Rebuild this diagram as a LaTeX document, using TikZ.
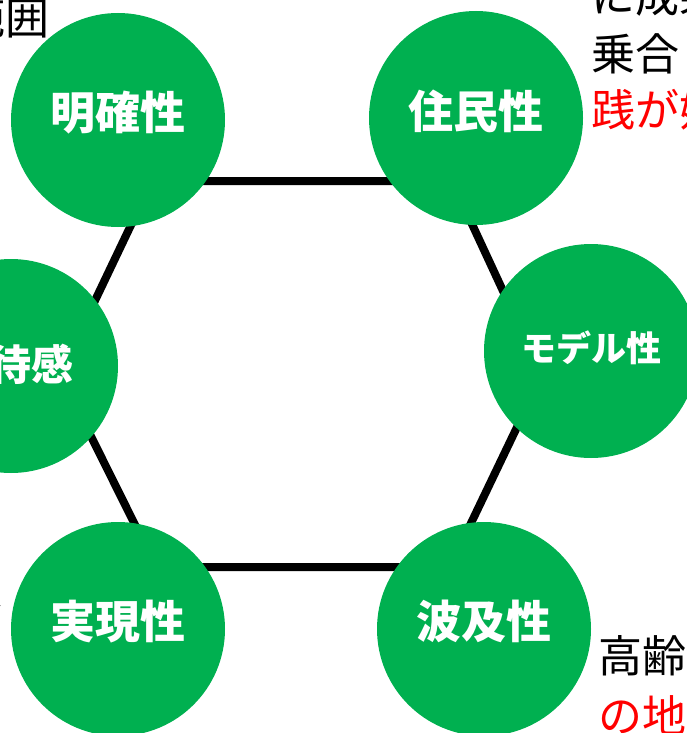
\documentclass[tikz,border=0pt]{standalone}
\usepackage{fontspec}
\newfontfamily\jp{Noto Sans CJK JP}
\definecolor{kgreen}{RGB}{0,176,80}
\definecolor{kred}{RGB}{255,0,0}
\begin{document}
\begin{tikzpicture}[x=1pt,y=-1pt]
\tikzset{
  circ/.style={circle, fill=kgreen, minimum size=214pt, inner sep=0pt},
  lab/.style={text=white, inner sep=0pt, font=\jp\bfseries\fontsize{45}{50}\selectfont},
  labsmall/.style={lab, font=\jp\bfseries\fontsize{35}{40}\selectfont},
  labmid/.style={lab, font=\jp\bfseries\fontsize{42}{46}\selectfont},
  hexline/.style={line width=8pt, line join=miter, draw=black},
  outtext/.style={inner sep=0pt, font=\jp\fontsize{44}{52}\selectfont},
  redtext/.style={outtext, text=kred}
}
\useasboundingbox (0,0) rectangle (687,733);
\clip (0,0) rectangle (687,733);
% hexagon
\coordinate (h1) at (152,181);
\coordinate (h2) at (452,181);
\coordinate (h3) at (542,375);
\coordinate (h4) at (450,567);
\coordinate (h5) at (156,567);
\coordinate (h6) at (60,374);
\draw[hexline] (h1) -- (h2) -- (h3) -- (h4) -- (h5) -- (h6) -- cycle;
% circles
\node[circ] (mei) at (118,120) {};
\node[circ] (jum) at (476,118) {};
\node[circ] (kit) at (11,366) {};
\node[circ] (mod) at (591,351) {};
\node[circ] (jit) at (118,629) {};
\node[circ] (hak) at (484,629) {};
% labels
\node[lab] (meiT) at ([yshift=7pt]mei.center) {明確性};
\node[lab] (jumT) at ([yshift=7pt]jum.center) {住民性};
\node[labmid] (kitT) at ([yshift=2pt]kit.center) {期待感};
\node[labsmall] (modT) at ([yshift=3pt]mod.center) {モデル性};
\node[lab] (jitT) at ([yshift=7pt]jit.center) {実現性};
\node[lab] (hakT) at ([yshift=8pt]hak.center) {波及性};
% outside texts (cut by the frame)
\node[outtext, anchor=base east] (t1) at (50,35) {範囲};
\node[outtext, anchor=base west] (t2) at (591,13) {に成果};
\node[outtext, anchor=base west] (t3) at (591,71) {乗合};
\node[redtext, anchor=base west] (t4) at (591,127) {践が始};
\node[outtext, anchor=base east] (t5) at (5,628) {む};
\node[outtext, anchor=base west] (t6) at (598,672) {高齢};
\node[redtext, anchor=base west] (t7) at (598,732) {の地};
\end{tikzpicture}
\end{document}
